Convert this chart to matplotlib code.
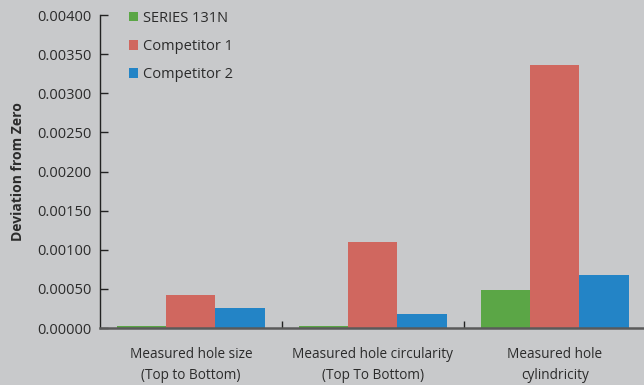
import matplotlib
matplotlib.use("Agg")
import matplotlib.pyplot as plt
import numpy as np
from matplotlib.ticker import FormatStrFormatter, FixedLocator

categories = ["Measured hole size\n(Top to Bottom)",
              "Measured hole circularity\n(Top To Bottom)",
              "Measured hole\ncylindricity"]
series_names = ["SERIES 131N", "Competitor 1", "Competitor 2"]
series131n = [0.00003, 0.00002, 0.00049]
competitor1 = [0.00042, 0.00110, 0.00336]
competitor2 = [0.00025, 0.00018, 0.00068]
colors = ["#5ba646", "#d0675f", "#2384c6"]

bg = "#c8c9cb"
text_c = "#2b2b2b"
plt.rcParams["font.family"] = ["Open Sans", "DejaVu Sans"]

fig = plt.figure(figsize=(6.44, 3.85), dpi=100, facecolor=bg)
ax = fig.add_axes([0.155, 0.148, 0.845, 0.813], facecolor=bg)

x = np.arange(len(categories))
w = 0.27
for i, (vals, name, c) in enumerate(zip([series131n, competitor1, competitor2], series_names, colors)):
    ax.bar(x + (i - 1) * w, vals, width=w, color=c, label=name, zorder=2)

ax.set_xlim(-0.5, 2.49)
ax.set_ylim(0, 0.004)
ax.set_yticks(np.arange(0, 0.00401, 0.0005))
ax.yaxis.set_major_formatter(FormatStrFormatter("%.5f"))
ax.tick_params(axis="y", direction="in", length=6, width=1, color="#222222",
               labelsize=10.5, labelcolor=text_c, pad=6)
ax.set_xticks(x)
ax.set_xticklabels(categories, fontsize=9.8, color=text_c, linespacing=1.5)
ax.tick_params(axis="x", which="major", length=0, pad=14)
ax.xaxis.set_minor_locator(FixedLocator([0.5, 1.5]))
ax.tick_params(axis="x", which="minor", direction="in", length=5, width=1, color="#222222")

for s in ["top", "right"]:
    ax.spines[s].set_visible(False)
ax.spines["left"].set_color("#222222")
ax.spines["left"].set_linewidth(1)
ax.spines["bottom"].set_color("#5a5a5a")
ax.spines["bottom"].set_linewidth(1.8)
ax.spines["bottom"].set_zorder(3)

ax.set_ylabel("Deviation from Zero", fontsize=10, fontweight="bold", color=text_c, labelpad=9)

ax.legend(loc="upper left", bbox_to_anchor=(0.03, 1.055), frameon=False, fontsize=10.5,
          handlelength=0.6, handleheight=0.6, handletextpad=0.35, labelspacing=0.9,
          labelcolor=text_c)

fig.savefig("out.png", dpi=100, facecolor=bg)
